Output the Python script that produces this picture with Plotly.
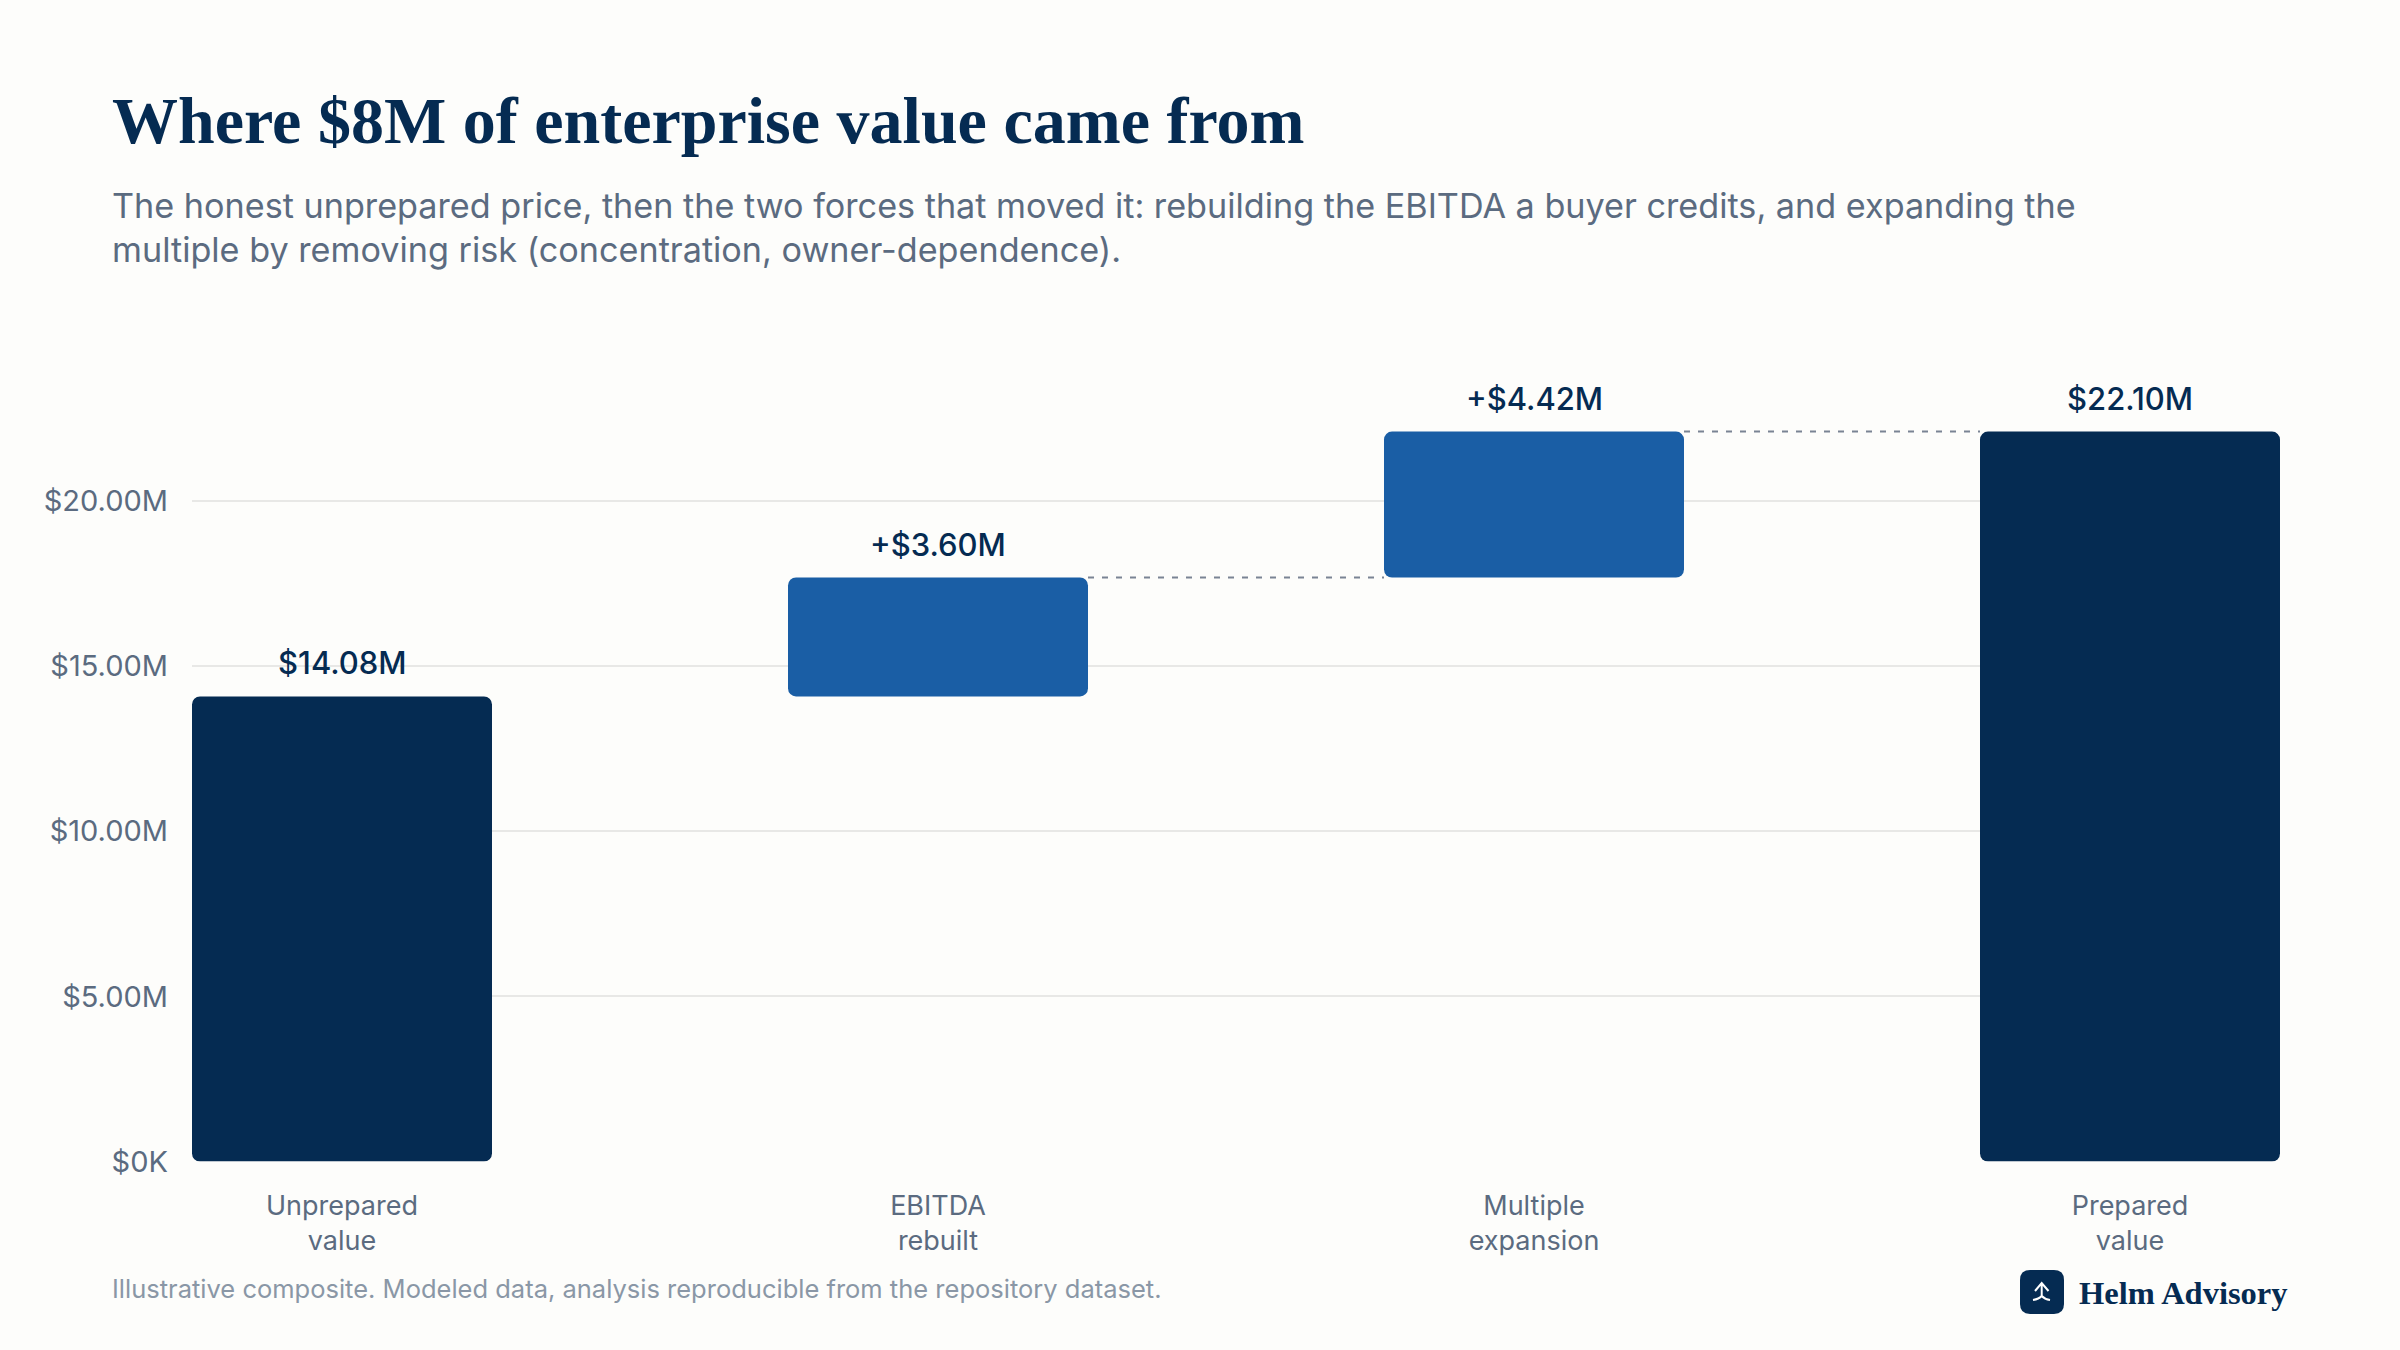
import plotly.graph_objects as go

# Enterprise value bridge, in $M
categories = ["Unprepared<br>value", "EBITDA<br>rebuilt", "Multiple<br>expansion", "Prepared<br>value"]
bar_bases = [0, 14.08, 17.68, 0]
bar_tops = [14.08, 17.68, 22.10, 22.10]
value_labels = ["$14.08M", "+$3.60M", "+$4.42M", "$22.10M"]
y_ticks = [0, 5, 10, 15, 20]
y_tick_labels = ["$0K", "$5.00M", "$10.00M", "$15.00M", "$20.00M"]
connector_pairs = [(1, 2), (2, 3)]

title = "Where $8M of enterprise value came from"
subtitle = ("The honest unprepared price, then the two forces that moved it: rebuilding the EBITDA a buyer credits, and expanding the<br>"
            "multiple by removing risk (concentration, owner-dependence).")
footnote = "Illustrative composite. Modeled data, analysis reproducible from the repository dataset."
brand = "Helm Advisory"

W, H = 2400, 1350
NAVY = "#052B52"
BLUE = "#1A5EA5"
BG = "#FDFDFB"
SLATE = "#5B6B80"
MUTED = "#8A97A6"
GRID = "#E8E8E6"
DASH = "#7A8494"
BODY_FONT = "Inter"
HEAD_FONT = "Liberation Serif"

BAR_WIDTH = 300 / 596
bar_colors = [NAVY, BLUE, BLUE, NAVY]
xs = list(range(len(categories)))


def px(x):
    return x / W


def py(y):
    return 1 - y / H


fig = go.Figure()

# Setting an explicit base gives every bar four rounded corners
fig.add_trace(go.Bar(x=xs, y=[t - b for t, b in zip(bar_tops, bar_bases)], base=bar_bases,
                     width=BAR_WIDTH, marker=dict(color=bar_colors, line_width=0, cornerradius=8),
                     hoverinfo="skip"))

# Dashed connectors between consecutive floating bars
for a, b in connector_pairs:
    fig.add_trace(go.Scatter(x=[xs[a] + BAR_WIDTH / 2, xs[b] - BAR_WIDTH / 2],
                             y=[bar_tops[a], bar_tops[a]], mode="lines",
                             line=dict(color=DASH, width=2, dash="6px,8px"), hoverinfo="skip"))

# Value labels above the bars
for x, top, label in zip(xs, bar_tops, value_labels):
    fig.add_annotation(x=x, y=top, text=label, showarrow=False, yanchor="bottom", yshift=13,
                       font=dict(family=BODY_FONT, size=31, color=NAVY, weight=500))


def note(text, x, y, size, color, family=BODY_FONT, weight=400):
    fig.add_annotation(text=text, xref="paper", yref="paper", x=px(x), y=py(y), xanchor="left",
                       yanchor="middle", align="left", showarrow=False,
                       font=dict(family=family, size=size, color=color, weight=weight))


note(title, 110, 121, 66, NAVY, HEAD_FONT, 700)
note(subtitle, 110, 228, 34.2, SLATE)
note(footnote, 110, 1288, 25.5, MUTED)
note(brand, 2077, 1293, 32.5, NAVY, HEAD_FONT, 700)

# Brand mark: rounded tile with a small arrow glyph
def path(cmds):
    return " ".join(cmd + " ".join(f"{px(x):.5f},{py(y):.5f}" for x, y in pts) for cmd, pts in cmds)


l, t, r, b, c = 2020, 1270, 2064, 1314, 10
tile = path([("M", [(l + c, t)]), ("L", [(r - c, t)]), ("Q", [(r, t), (r, t + c)]), ("L", [(r, b - c)]),
             ("Q", [(r, b), (r - c, b)]), ("L", [(l + c, b)]), ("Q", [(l, b), (l, b - c)]),
             ("L", [(l, t + c)]), ("Q", [(l, t), (l + c, t)])]) + " Z"
arrow = path([("M", [(2035, 1291)]), ("L", [(2041.7, 1283)]), ("L", [(2048.5, 1291)]),
              ("M", [(2041.7, 1284)]), ("L", [(2041.7, 1297)]),
              ("M", [(2033, 1300)]), ("Q", [(2039, 1299), (2041.7, 1296)]),
              ("Q", [(2044.5, 1299), (2050, 1300)])])
fig.add_shape(type="path", xref="paper", yref="paper", path=tile, fillcolor=NAVY, line_width=0)
fig.add_shape(type="path", xref="paper", yref="paper", path=arrow, line=dict(color="#FFFFFF", width=2))

ZERO_Y, PX_PER_M = 1161.5, 33.03
Y_MAX = 24
fig.update_layout(
    width=W, height=H, margin=dict(l=0, r=0, t=0, b=0), paper_bgcolor=BG, plot_bgcolor=BG,
    showlegend=False,
    xaxis=dict(domain=[px(192), px(2280)], range=[-0.5 * BAR_WIDTH, 3 + 0.5 * BAR_WIDTH],
               tickmode="array", tickvals=xs, ticktext=categories, showgrid=False, zeroline=False,
               ticks="", showline=False, ticklabelstandoff=25, automargin=False,
               tickfont=dict(family=BODY_FONT, size=27, color=SLATE)),
    yaxis=dict(domain=[py(ZERO_Y), py(ZERO_Y - Y_MAX * PX_PER_M)], range=[0, Y_MAX],
               tickmode="array", tickvals=y_ticks, ticktext=y_tick_labels, showgrid=True,
               gridcolor=GRID, gridwidth=2, zeroline=False, ticks="", showline=False,
               ticklabelstandoff=23, automargin=False,
               tickfont=dict(family=BODY_FONT, size=29, color=SLATE)),
)

fig.write_html("out.html")
